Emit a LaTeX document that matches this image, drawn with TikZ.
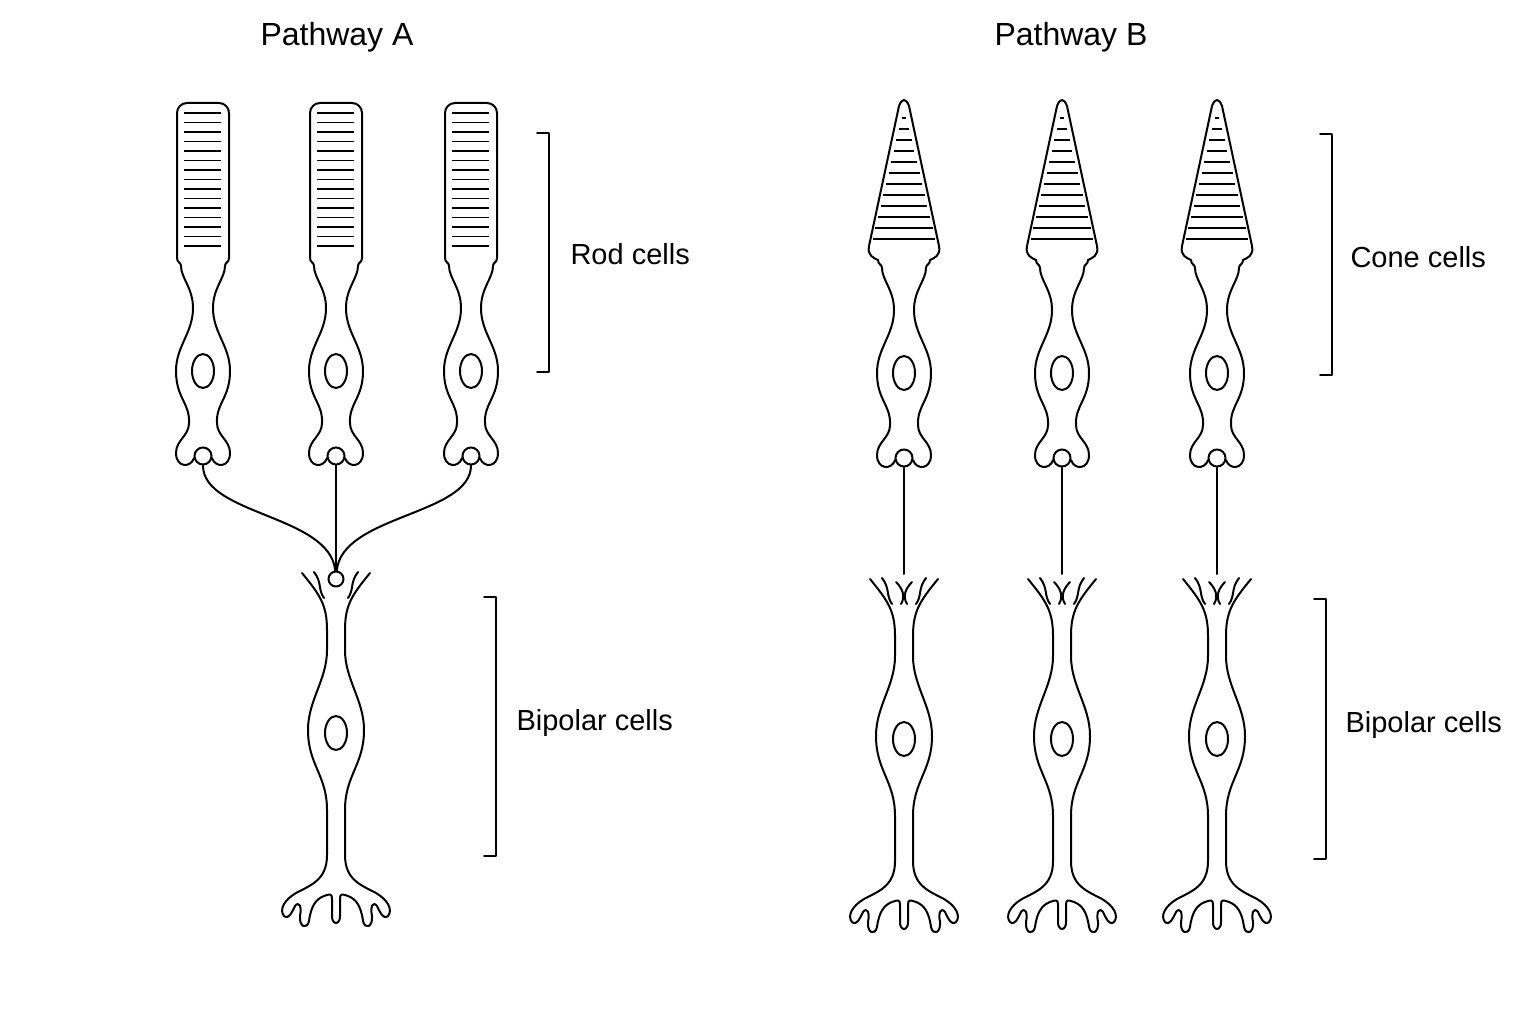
\documentclass[tikz,border=0pt]{standalone}
\usepackage{fontspec}
\setmainfont{Liberation Sans}
\usetikzlibrary{positioning}

\newcommand\bodyside{(26,0) .. controls (26,5) and (22,4) .. (22,8) .. controls (22,20) and (10,30) .. (10,50) .. controls (10,75) and (27,88) .. (27,113) .. controls (27,140) and (13,145) .. (14,165) .. controls (14,178) and (27,182) .. (27,195) .. controls (27,210) and (12,210) .. (9,200)}
\newcommand\bipside{(34,3) .. controls (16,25) and (9,35) .. (9,60) -- (9,80) .. controls (9,110) and (28,130) .. (28,160) .. controls (28,195) and (9,205) .. (9,240) -- (9,285) .. controls (9,310) and (25,315) .. (40,323) .. controls (52,330) and (57,340) .. (52,346) .. controls (47,350) and (44,342) .. (41,336) .. controls (37,331) and (34,336) .. (36,346) .. controls (37,357) and (29,360) .. (27,351) .. controls (25,336) and (20,329) .. (12,326) .. controls (6,324) and (4,323) .. (4,329) -- (4,346) .. controls (4,353) and (0,353) .. (0,353)
  (12,28) .. controls (18,20) and (14,12) .. (22,2)}

\tikzset{
  cell/.style={line width=2pt,line cap=round,line join=round},
  syn/.style={circle,draw,line width=2pt,minimum size=17pt,inner sep=0pt,fill=white},
  label/.style={font=\fontsize{29}{32}\selectfont,anchor=west},
  title/.style={font=\fontsize{32}{36}\selectfont},
  pics/body/.style={code={
    \draw[cell] \bodyside;
    \draw[cell,xscale=-1] \bodyside;
    \draw[cell] (0,113) ellipse (11 and 17);
  }},
  pics/rod/.style={code={
    \draw[cell,rounded corners=10] (-26,258) -- (-26,103) -- (26,103) -- (26,258);
    \foreach \k in {0,...,14} \draw[line width=1.6pt] (-19,113+9.5*\k) -- (18,113+9.5*\k);
    \pic at (0,258) {body};
  }},
  pics/cone/.style={code={
    \draw[cell] (-26,260) .. controls (-30,258) and (-37,256) .. (-35,246) -- (-5,106) .. controls (-2,98) and (2,98) .. (5,106) -- (35,246) .. controls (37,256) and (30,258) .. (26,260);
    \foreach \y in {118,129,...,245} \draw[line width=1.4pt] ({-35*(\y-100)/146+2},\y) -- ({35*(\y-100)/146-2},\y);
    \pic at (0,260) {body};
  }},
  pics/bipolar/.style={code={
    \draw[cell] \bipside;
    \draw[cell,xscale=-1] \bipside;
    \draw[cell] (0,163) ellipse (11 and 17);
  }},
  pics/hooks/.style={code={
    \draw[cell] (3,28) .. controls (-2,20) and (2,12) .. (8,6);
    \draw[cell] (-3,28) .. controls (2,20) and (-2,12) .. (-8,6);
  }}
}

\begin{document}
\begin{tikzpicture}[x=1pt,y=-1pt]
\useasboundingbox (0,0) rectangle (1536,1024);

% titles
\node[title] (titleA) at (337,37) {Pathway A};
\node[title] (titleB) at (1071,37) {Pathway B};

% pathway A
\foreach \x/\n in {203/1,336/2,471/3} {
  \pic at (\x,0) {rod};
  \node[syn] (rs\n) at (\x,456) {};
}
\pic at (336,570) {bipolar};
\node[syn,minimum size=15pt] (bpA) at (336,579) {};
\draw[cell] (rs1) .. controls (203,515) and (330,515) .. (bpA);
\draw[cell] (rs2) -- (bpA);
\draw[cell] (rs3) .. controls (471,515) and (342,515) .. (bpA);

% pathway B
\foreach \x/\n in {904/1,1062/2,1217/3} {
  \pic at (\x,0) {cone};
  \node[syn] (cs\n) at (\x,458) {};
  \pic at (\x,576) {bipolar};
  \pic at (\x,576) {hooks};
  \coordinate (bt\n) at (\x,574);
  \draw[cell] (cs\n) -- (bt\n);
}

% brackets
\draw[cell,line width=1.6pt] (537,133) -- (549,133) -- (549,372) -- (537,372);
\draw[cell,line width=1.6pt] (484,597) -- (496,597) -- (496,856) -- (484,856);
\draw[cell,line width=1.6pt] (1320,134) -- (1332,134) -- (1332,375) -- (1320,375);
\draw[cell,line width=1.6pt] (1314,599) -- (1326,599) -- (1326,859) -- (1314,859);

\node[label] (rodlbl) at (567,254) {Rod cells};
\node[label] (bipAlbl) at (513,723) {Bipolar cells};
\node[label] (conelbl) at (1347,257) {Cone cells};
\node[label] (bipBlbl) at (1342,725) {Bipolar cells};
\end{tikzpicture}
\end{document}
